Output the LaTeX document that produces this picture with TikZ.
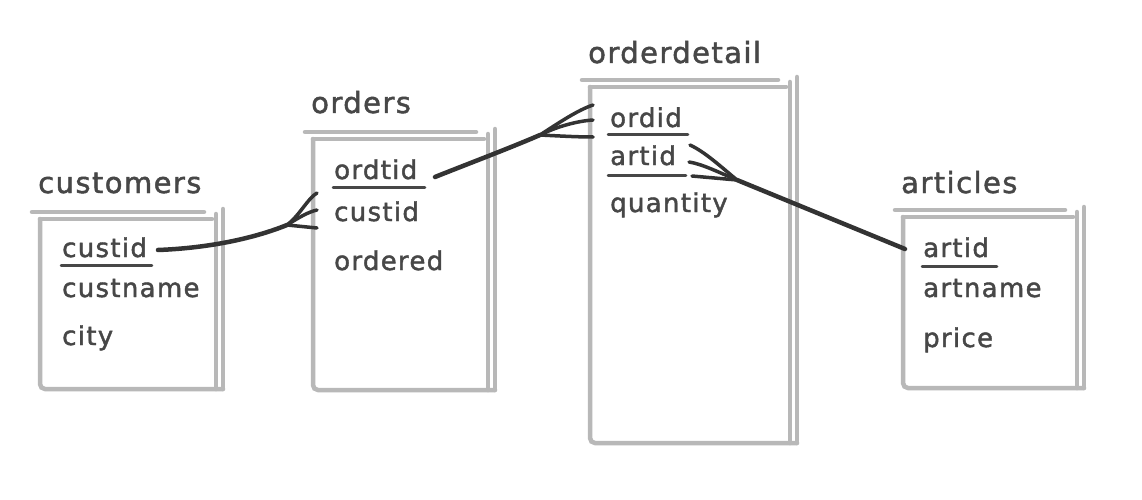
\documentclass[tikz,border=0pt]{standalone}
\usepackage{fontspec}
\setmainfont{DejaVu Sans}
\newfontfamily\handfont[FakeBold=1.6,LetterSpace=5]{DejaVu Sans}
\definecolor{boxgray}{HTML}{B8B8B8}
\definecolor{inkgray}{HTML}{474747}
\definecolor{linkgray}{HTML}{333333}
\newcommand\dbtable[4]{% L T R B
  \draw[boxline] (#1-8,#2) -- (#3-12,#2);
  \draw[boxline] (#1,#2+7) -- (#3-4,#2+7);
  \draw[boxline, rounded corners=5pt] (#1,#2+7) -- (#1,#4) -- (#3+7,#4);
  \draw[boxline] (#3,#2+2) -- (#3,#4);
  \draw[boxline] (#3+7,#2-3) -- (#3+7,#4);
}
\begin{document}
\begin{tikzpicture}[x=1pt,y=-1pt,
  boxline/.style={draw=boxgray, line width=4.5pt, line cap=round},
  field/.style={anchor=base west, inner sep=0pt, text=inkgray, font=\handfont\fontsize{26}{26}\selectfont},
  tabtitle/.style={anchor=base west, inner sep=0pt, text=inkgray, font=\handfont\fontsize{29}{29}\selectfont},
  keyline/.style={draw=inkgray, line width=2.5pt, line cap=round},
  link/.style={draw=linkgray, line width=4.5pt, line cap=round, line join=round},
  prong/.style={draw=linkgray, line width=3.5pt, line cap=round}]
\useasboundingbox (0,0) rectangle (1142,500);
\fill[white] (0,0) rectangle (1142,500);

% tables
\dbtable{40}{212}{216}{389}
\dbtable{313}{132}{488}{390}
\dbtable{590}{80}{790}{443}
\dbtable{903}{210}{1077}{388}

% titles
\node[tabtitle] (tcust) at (38,193) {customers};
\node[tabtitle] (tord) at (311,113) {orders};
\node[tabtitle] (tdet) at (588,63) {orderdetail};
\node[tabtitle] (tart) at (901,193) {articles};

% customers fields
\node[field] (ccustid) at (62,257) {custid};
\node[field] (ccustname) at (62,297) {custname};
\node[field] (ccity) at (62,345) {city};
\draw[keyline] (ccustid.south west) ++(-1,8) -- ++(91,0);

% orders fields
\node[field] (oordtid) at (334,179) {ordtid};
\node[field] (ocustid) at (334,221) {custid};
\node[field] (oordered) at (334,270) {ordered};
\draw[keyline] (oordtid.south west) ++(-1,8) -- ++(92,0);

% orderdetail fields
\node[field] (dordid) at (610,127) {ordid};
\node[field] (dartid) at (610,165) {artid};
\node[field] (dqty) at (610,212) {quantity};
\draw[keyline] (dordid.south west) ++(-2,7) -- ++(80,0);
\draw[keyline] (dartid.south west) ++(-2,10) -- ++(78,0);

% articles fields
\node[field] (aartid) at (923,257) {artid};
\node[field] (aartname) at (923,297) {artname};
\node[field] (aprice) at (923,347) {price};
\draw[keyline] (aartid.south west) ++(-1,9) -- ++(75,0);

% connector customers.custid -> orders.custid (crow's foot at orders)
\coordinate (s1) at (158,250);
\coordinate (f1) at (287,225);
\coordinate (f1a) at (317,193);
\coordinate (f1b) at (317,210);
\coordinate (f1c) at (317,228);
\draw[link] (s1) .. controls (210,248) and (255,238) .. (f1);
\draw[prong] (f1) .. controls (300,215) and (308,198) .. (f1a);
\draw[prong] (f1) .. controls (298,218) and (308,212) .. (f1b);
\draw[prong] (f1) -- (f1c);

% connector orders.ordtid -> orderdetail.ordid (crow's foot at orderdetail)
\coordinate (s2) at (435,177);
\coordinate (f2) at (540,135);
\coordinate (f2a) at (593,105);
\coordinate (f2b) at (593,120);
\coordinate (f2c) at (593,137);
\draw[link] (s2) .. controls (470,163) and (510,148) .. (f2);
\draw[prong] (f2) .. controls (560,122) and (578,110) .. (f2a);
\draw[prong] (f2) .. controls (558,126) and (578,121) .. (f2b);
\draw[prong] (f2) .. controls (560,136) and (578,137) .. (f2c);

% connector orderdetail.artid -> articles.artid (crow's foot at orderdetail)
\coordinate (e3) at (905,249);
\coordinate (f3) at (737,180);
\coordinate (f3a) at (690,145);
\coordinate (f3b) at (689,162);
\coordinate (f3c) at (692,176);
\draw[link] (f3) -- (e3);
\draw[prong] (f3) .. controls (720,166) and (705,152) .. (f3a);
\draw[prong] (f3) .. controls (718,172) and (702,164) .. (f3b);
\draw[prong] (f3) -- (f3c);
\end{tikzpicture}
\end{document}
